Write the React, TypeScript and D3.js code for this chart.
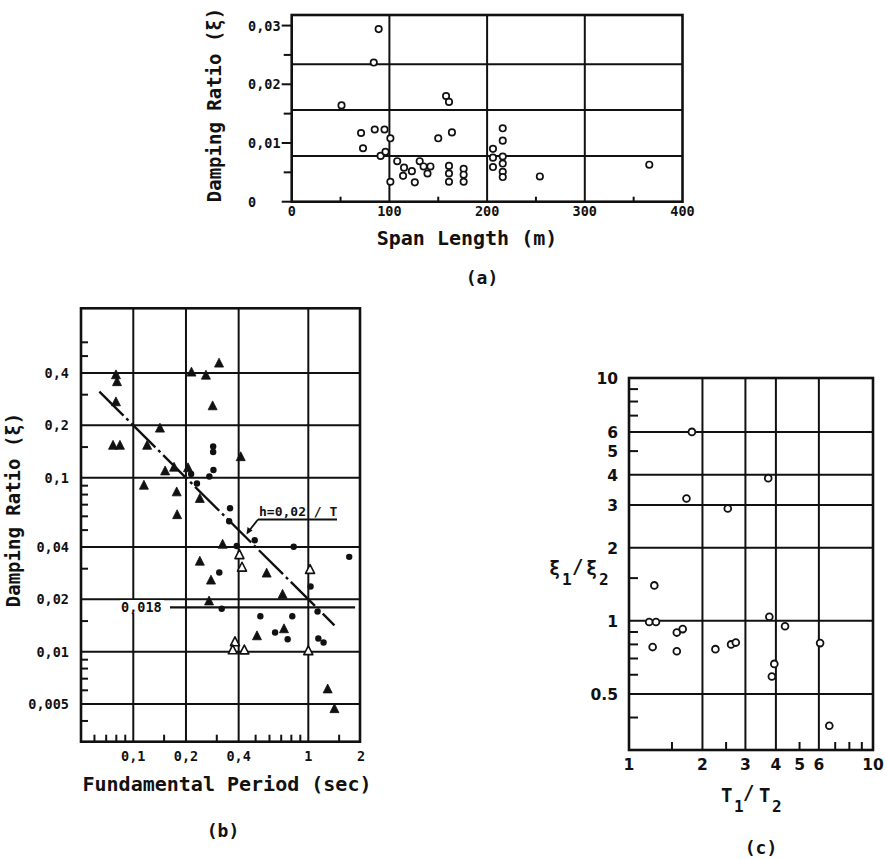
import React from 'react';
import * as d3 from 'd3';

// ---------- Panel (a): damping ratio vs span length ----------
const spanA = [89, 84, 51, 71, 73, 85, 95, 101, 91, 96, 101, 108, 115, 114, 123, 126, 131, 135, 139, 142, 150, 158, 161, 164, 161, 161, 161, 176, 176, 176, 206, 206, 206, 216, 216, 216, 216, 216, 216, 254, 366];
const dampA = [0.0294, 0.0237, 0.0164, 0.0117, 0.0091, 0.0123, 0.0123, 0.0108, 0.0078, 0.0085, 0.0034, 0.0069, 0.0058, 0.0044, 0.0052, 0.0033, 0.0069, 0.006, 0.0048, 0.006, 0.0108, 0.018, 0.017, 0.0118, 0.0061, 0.0048, 0.0034, 0.0056, 0.0046, 0.0034, 0.009, 0.0075, 0.0059, 0.0125, 0.0104, 0.0077, 0.0065, 0.0051, 0.0042, 0.0043, 0.0063];
const aGridY = [0.0078, 0.0156, 0.0234];
const aGridX = [100, 200, 300];
const aYTicks = [0, 0.01, 0.02, 0.03];
const aYTickLabels = ['0', '0,01', '0,02', '0,03'];
const aYMinor = [0.005, 0.015, 0.025];
const aXTicks = [0, 100, 200, 300, 400];
const aXTickLabels = ['0', '100', '200', '300', '400'];
const aXMinor = [50, 150, 250, 350];

// ---------- Panel (b): damping ratio vs fundamental period ----------
const triT = [0.0796, 0.0807, 0.0796, 0.0766, 0.0839, 0.142, 0.12, 0.152, 0.115, 0.215, 0.26, 0.309, 0.284, 0.411, 0.2054, 0.177, 0.24, 0.178, 0.324, 0.24, 0.578, 0.278, 0.713, 0.271, 0.509, 0.726, 1.29, 1.41, 0.171];
const triH = [0.389, 0.355, 0.272, 0.153, 0.153, 0.192, 0.153, 0.109, 0.0902, 0.403, 0.387, 0.454, 0.258, 0.1316, 0.1137, 0.0826, 0.0757, 0.0611, 0.0413, 0.033, 0.0282, 0.0257, 0.0213, 0.0195, 0.0123, 0.0135, 0.00609, 0.00469, 0.1145];
const dotT = [0.286, 0.286, 0.287, 0.272, 0.214, 0.231, 0.357, 0.353, 0.494, 0.39, 0.825, 1.713, 0.31, 1.03, 0.32, 0.532, 0.81, 1.129, 0.646, 0.762, 1.141, 1.222];
const dotH = [0.151, 0.1406, 0.1107, 0.1016, 0.105, 0.0926, 0.0667, 0.0562, 0.0437, 0.0405, 0.0401, 0.0351, 0.0285, 0.0237, 0.01765, 0.016, 0.016, 0.017, 0.0129, 0.0118, 0.0119, 0.0113];
const openT = [0.404, 0.418, 1.023, 0.381, 0.37, 0.431, 1.0];
const openH = [0.036, 0.0305, 0.0296, 0.01137, 0.01022, 0.0102, 0.0101];
const fitT = [0.064, 1.41];
const fitC = 0.02;
const constH = 0.018;
const constT = [0.162, 1.85];
const bGridY = [0.4, 0.2, 0.1, 0.04, 0.02, 0.01, 0.005];
const bYLabels = ['0,4', '0,2', '0,1', '0,04', '0,02', '0,01', '0,005'];
const bGridX = [0.1, 0.2, 0.4, 1];
const bXTicks = [0.1, 0.2, 0.4, 1, 2];
const bXLabels = ['0,1', '0,2', '0,4', '1', '2'];
const bYMinor = [0.6, 0.5, 0.3, 0.15, 0.09, 0.08, 0.07, 0.06, 0.05, 0.03, 0.015, 0.009, 0.008, 0.007, 0.006, 0.004];
const bXMinor = [0.06, 0.07, 0.08, 0.09, 0.15, 0.3, 0.5, 0.6, 0.7, 0.8, 0.9, 1.5];

// ---------- Panel (c): xi1/xi2 vs T1/T2 ----------
const ratioT = [1.21, 1.29, 1.25, 1.57, 1.66, 1.57, 2.26, 2.62, 2.74, 3.76, 4.36, 3.94, 3.85, 6.07, 6.62, 1.81, 3.72, 1.72, 2.54, 1.27];
const ratioXi = [0.99, 0.99, 0.78, 0.895, 0.925, 0.75, 0.765, 0.8, 0.814, 1.04, 0.95, 0.665, 0.59, 0.81, 0.37, 6.0, 3.87, 3.19, 2.9, 1.4];
const cGridY = [6, 4, 3, 2, 1, 0.5];
const cYTicks = [10, 6, 5, 4, 3, 2, 1, 0.5];
const cYLabels = ['10', '6', '5', '4', '3', '2', '1', '0.5'];
const cGridX = [2, 3, 4, 6];
const cXTicks = [1, 2, 3, 4, 5, 6, 10];
const cXLabels = ['1', '2', '3', '4', '5', '6', '10'];
const cYMinor = [9, 8, 7, 5, 1.5, 0.9, 0.8, 0.7, 0.6, 0.4];
const cXMinor = [1.5, 2.5, 5, 7, 8, 9];

const MONO = "'DejaVu Sans Mono', monospace";
const SANS = "'DejaVu Sans', sans-serif";
const INK = '#111';
const TRI = 'M0,-5.2L4.5,3.7L-4.5,3.7Z';

export default function App() {
  const aX = d3.scaleLinear().domain([0, 400]).range([291.7, 682.5]);
  const aY = d3.scaleLinear().domain([0, 0.0318]).range([201.7, 15]);
  const bX = d3.scaleLog().domain([0.05, 2]).range([80.6, 361]);
  const bY = d3.scaleLog().domain([0.00304, 0.941]).range([741.7, 308.3]);
  const cX = d3.scaleLog().domain([1, 10]).range([629, 873]);
  const cY = d3.scaleLog().domain([0.294, 10]).range([750, 378]);

  const fitLine = d3.line<number>().x((t) => bX(t)).y((t) => bY(fitC / t));
  const fitPts = [fitT[0], fitT[1]];

  const [ax0, ax1] = aX.range();
  const [ay0, ay1] = aY.range();
  const [bx0, bx1] = [81, 360];
  const [by0, by1] = bY.range();
  const [cx0, cx1] = cX.range();
  const [cy0, cy1] = cY.range();

  return (
    <svg width={886} height={859} viewBox="0 0 886 859"
      style={{ position: 'absolute', left: 0, top: 0, background: '#fff' }}>
      <rect x={0} y={0} width={886} height={859} fill="#fff" />

      {/* ================= Panel (a) ================= */}
      <g stroke={INK} fill="none">
        {aGridY.map((v, i) => (
          <line key={'agy' + i} x1={ax0} x2={ax1} y1={aY(v)} y2={aY(v)} strokeWidth={2} />
        ))}
        {aGridX.map((v, i) => (
          <line key={'agx' + i} x1={aX(v)} x2={aX(v)} y1={ay0} y2={ay1} strokeWidth={2} />
        ))}
        {aYTicks.map((v, i) => (
          <line key={'ayt' + i} x1={ax0 - 10} x2={ax0} y1={aY(v)} y2={aY(v)} strokeWidth={2} />
        ))}
        {aYMinor.map((v, i) => (
          <line key={'aym' + i} x1={ax0 - 8} x2={ax0} y1={aY(v)} y2={aY(v)} strokeWidth={2} />
        ))}
        {aXMinor.map((v, i) => (
          <line key={'axm' + i} x1={aX(v)} x2={aX(v)} y1={ay0} y2={ay0 - 5} strokeWidth={2} />
        ))}
        <rect x={ax0} y={ay1} width={ax1 - ax0} height={ay0 - ay1} strokeWidth={2.6} />
      </g>
      <g fill="#fff" stroke={INK} strokeWidth={1.7}>
        {spanA.map((s, i) => (
          <circle key={'ap' + i} cx={aX(s)} cy={aY(dampA[i])} r={3.2} />
        ))}
      </g>
      <g fontFamily={MONO} fontSize={13.5} fontWeight="bold" fill={INK}>
        {aYTicks.map((v, i) => (
          <text key={'ayl' + i} x={248} y={aY(v) + 5} textAnchor="start">{aYTickLabels[i]}</text>
        ))}
        {aXTicks.map((v, i) => (
          <text key={'axl' + i} x={aX(v)} y={216} textAnchor="middle">{aXTickLabels[i]}</text>
        ))}
      </g>
      <g fontFamily={MONO} fill={INK} fontWeight="bold">
        <text x={467} y={245} fontSize={20} textAnchor="middle">Span Length (m)</text>
        <text transform="translate(221,105) rotate(-90)" fontSize={19} textAnchor="middle">Damping Ratio (ξ)</text>
        <text x={482} y={284} fontSize={18} textAnchor="middle">(a)</text>
      </g>

      {/* ================= Panel (b) ================= */}
      <g stroke={INK} fill="none">
        {bGridY.map((v, i) => (
          <line key={'bgy' + i} x1={bx0} x2={bx1} y1={bY(v)} y2={bY(v)} strokeWidth={2} />
        ))}
        {bGridX.map((v, i) => (
          <line key={'bgx' + i} x1={bX(v)} x2={bX(v)} y1={by0} y2={by1} strokeWidth={2} />
        ))}
        {bYMinor.map((v, i) => (
          <line key={'bym' + i} x1={bx0} x2={bx0 + 7} y1={bY(v)} y2={bY(v)} strokeWidth={2} />
        ))}
        {bXMinor.map((v, i) => (
          <line key={'bxm' + i} x1={bX(v)} x2={bX(v)} y1={by0} y2={by0 - 7} strokeWidth={2} />
        ))}
        <rect x={bx0} y={by1} width={bx1 - bx0} height={by0 - by1} strokeWidth={2.6} />
        <line x1={bX(constT[0])} x2={bX(constT[1])} y1={bY(constH)} y2={bY(constH)} strokeWidth={2.2} />
        <path d={fitLine(fitPts) || ''} strokeWidth={2.4} strokeDasharray="34,4,3,4" />
        <line x1={258} x2={337} y1={519.5} y2={519.5} strokeWidth={1.8} />
        <line x1={258} x2={248.5} y1={519.5} y2={531.5} strokeWidth={1.8} />
      </g>
      <path d="M246.5,534.5L247.5,527L252.5,530.5Z" fill={INK} />
      <rect x={120} y={600} width={44} height={13} fill="#fff" />
      <g fill={INK}>
        {triT.map((t, i) => (
          <path key={'bt' + i} d={TRI} transform={`translate(${bX(t)},${bY(triH[i])})`}
            stroke={INK} strokeWidth={0.8} strokeLinejoin="round" />
        ))}
        {dotT.map((t, i) => (
          <circle key={'bd' + i} cx={bX(t)} cy={bY(dotH[i])} r={3.2} />
        ))}
      </g>
      <g fill="#fff" stroke={INK} strokeWidth={1.6}>
        {openT.map((t, i) => (
          <path key={'bo' + i} d={TRI} transform={`translate(${bX(t)},${bY(openH[i])})`} strokeLinejoin="round" />
        ))}
      </g>
      <g fontFamily={MONO} fontSize={13.5} fontWeight="bold" fill={INK}>
        {bGridY.map((v, i) => (
          <text key={'byl' + i} x={69} y={bY(v) + 5} textAnchor="end">{bYLabels[i]}</text>
        ))}
        {bXTicks.map((v, i) => (
          <text key={'bxl' + i} x={bX(v)} y={761} textAnchor="middle">{bXLabels[i]}</text>
        ))}
        <text x={121} y={bY(constH) + 5}>0,018</text>
        <text x={259} y={516} fontSize={13}>h=0,02 / T</text>
      </g>
      <g fontFamily={MONO} fill={INK} fontWeight="bold">
        <text x={227} y={791} fontSize={20} textAnchor="middle">Fundamental Period (sec)</text>
        <text transform="translate(20,510) rotate(-90)" fontSize={19} textAnchor="middle">Damping Ratio (ξ)</text>
        <text x={223} y={837} fontSize={18} textAnchor="middle">(b)</text>
      </g>

      {/* ================= Panel (c) ================= */}
      <g stroke={INK} fill="none">
        {cGridY.map((v, i) => (
          <line key={'cgy' + i} x1={cx0} x2={cx1} y1={cY(v)} y2={cY(v)} strokeWidth={2} />
        ))}
        {cGridX.map((v, i) => (
          <line key={'cgx' + i} x1={cX(v)} x2={cX(v)} y1={cy0} y2={cy1} strokeWidth={2} />
        ))}
        {cYMinor.map((v, i) => (
          <line key={'cym' + i} x1={cx0} x2={cx0 + 9} y1={cY(v)} y2={cY(v)} strokeWidth={2} />
        ))}
        {cXMinor.map((v, i) => (
          <line key={'cxm' + i} x1={cX(v)} x2={cX(v)} y1={cy0} y2={cy0 - 8} strokeWidth={2} />
        ))}
        <rect x={cx0} y={cy1} width={cx1 - cx0} height={cy0 - cy1} strokeWidth={2.6} />
      </g>
      <g fill="#fff" stroke={INK} strokeWidth={1.8}>
        {ratioT.map((t, i) => (
          <circle key={'cp' + i} cx={cX(t)} cy={cY(ratioXi[i])} r={3.4} />
        ))}
      </g>
      <g fontFamily={SANS} fontSize={15.5} fontWeight="bold" fill={INK}>
        {cYTicks.map((v, i) => (
          <text key={'cyl' + i} x={618} y={cY(v) + 6} textAnchor="end">{cYLabels[i]}</text>
        ))}
        {cXTicks.map((v, i) => (
          <text key={'cxl' + i} x={cX(v)} y={770} textAnchor="middle">{cXLabels[i]}</text>
        ))}
      </g>
      <g fontFamily={MONO} fontSize={19} fill={INK} fontWeight="bold">
        <text x={721} y={802}>T</text>
        <text x={734} y={812} fontSize={16}>1</text>
        <text x={743} y={799}>/</text>
        <text x={759} y={802}>T</text>
        <text x={772} y={812} fontSize={16}>2</text>
        <text x={549} y={575}>ξ</text>
        <text x={562} y={585} fontSize={16}>1</text>
        <text x={572} y={573}>/</text>
        <text x={586} y={575}>ξ</text>
        <text x={599} y={585} fontSize={16}>2</text>
        <text x={761} y={854} fontSize={18} textAnchor="middle">(c)</text>
      </g>
    </svg>
  );
}
